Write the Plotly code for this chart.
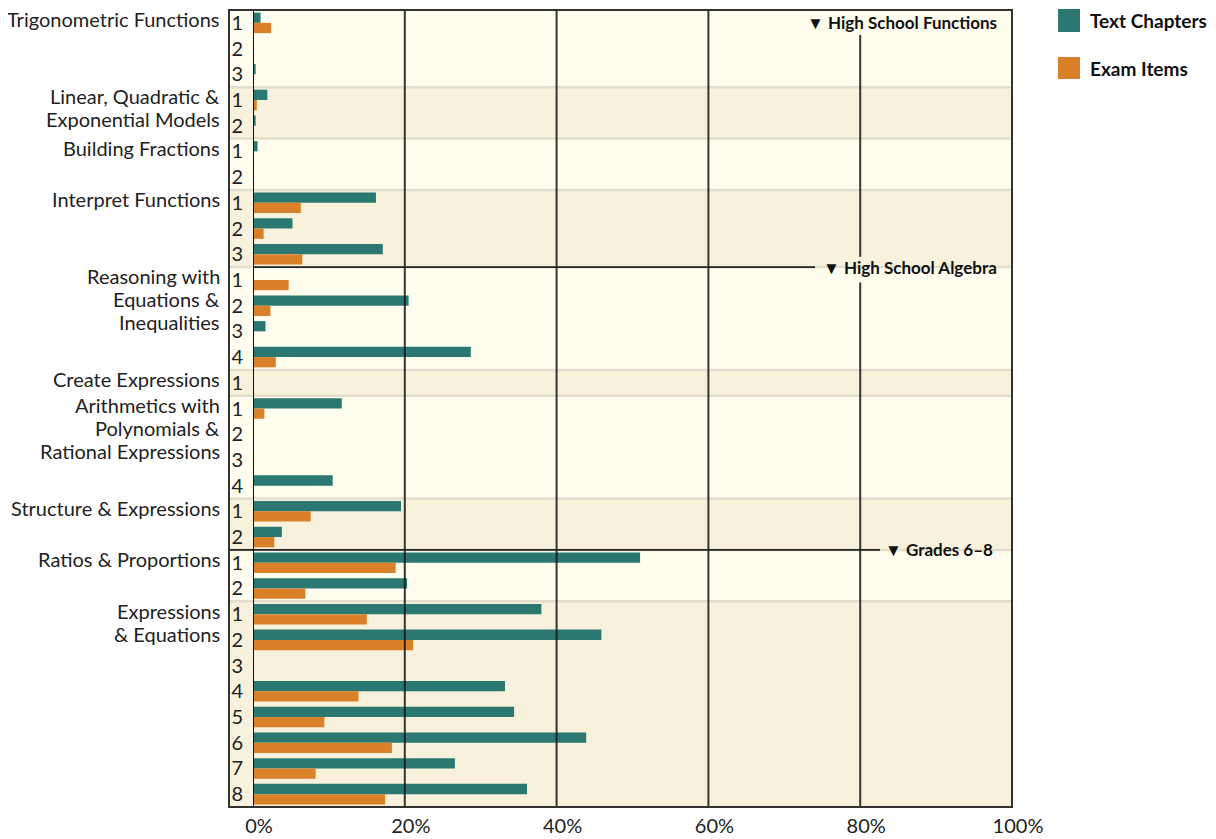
import plotly.graph_objects as go

# ---------------- data ----------------
group_names = [
    "Trigonometric Functions",
    "Linear, Quadratic &<br>Exponential Models",
    "Building Fractions",
    "Interpret Functions",
    "Reasoning with<br>Equations &<br>Inequalities",
    "Create Expressions",
    "Arithmetics with<br>Polynomials &<br>Rational Expressions",
    "Structure & Expressions",
    "Ratios & Proportions",
    "Expressions<br>& Equations",
]
group_sizes = [3, 2, 2, 3, 4, 1, 4, 2, 2, 8]
item_labels = ["1", "2", "3", "1", "2", "1", "2", "1", "2", "3",
               "1", "2", "3", "4", "1", "1", "2", "3", "4", "1", "2",
               "1", "2", "1", "2", "3", "4", "5", "6", "7", "8"]
text_chapters = [1.0, 0, 0.35, 1.9, 0.35, 0.6, 0, 16.2, 5.2, 17.1,
                 0, 20.5, 1.65, 28.7, 0, 11.7, 0, 0, 10.5, 19.5, 3.8,
                 51.0, 20.3, 38.0, 45.9, 0, 33.2, 34.4, 43.9, 26.6, 36.1]
exam_items = [2.4, 0, 0, 0.5, 0, 0, 0, 6.3, 1.4, 6.5,
              4.7, 2.3, 0, 3.0, 0, 1.5, 0, 0, 0, 7.6, 2.8,
              18.8, 6.9, 15.0, 21.1, 0, 13.9, 9.4, 18.3, 8.25, 17.4]
section_names = ["High School Functions", "High School Algebra", "Grades 6\u20138"]
section_start_group = [0, 4, 8]
x_ticks = [0, 20, 40, 60, 80, 100]
x_tick_labels = ["0%", "20%", "40%", "60%", "80%", "100%"]
series_names = ["Text Chapters", "Exam Items"]

# ---------------- style ----------------
TEAL = "#2b7872"
ORANGE = "#d98029"
LIGHT = "#fffdee"
BEIGE = "#f8f1dc"
SEP = "#e3dece"
INK = "#222222"
FONT = "Lato"

OFF = 8  # page body margin
W, H = 1216 - OFF, 839 - OFF
# target page pixels: plot area x 253..1012, y 10..807
ML = 253 - OFF
MT = 10 - OFF
MR = W - (1012 - OFF)
MB = H - (807 - OFF)
PW = W - ML - MR
PH = H - MT - MB


def px_x(p):  # page pixel -> paper x
    return (p - OFF - ML) / PW


def px_y(p):  # page pixel -> paper y
    return (H - MB - (p - OFF)) / PH


n_rows = len(item_labels)
rows = list(range(n_rows))

fig = go.Figure()
fig.add_trace(go.Bar(y=rows, x=text_chapters, orientation="h", name=series_names[0],
                     marker=dict(color=TEAL, line=dict(width=0)), hoverinfo="skip"))
fig.add_trace(go.Bar(y=rows, x=exam_items, orientation="h", name=series_names[1],
                     marker=dict(color=ORANGE, line=dict(width=0)), hoverinfo="skip"))

shapes = []
annotations = []
col_left = px_x(229)

# group starts
starts = []
s = 0
for g in group_sizes:
    starts.append(s)
    s += g

# bands
for gi, (st, sz) in enumerate(zip(starts, group_sizes)):
    shapes.append(dict(type="rect", xref="paper", yref="y", x0=col_left, x1=1,
                       y0=st - 0.5, y1=st + sz - 0.5, fillcolor=LIGHT if gi % 2 == 0 else BEIGE,
                       line=dict(width=0), layer="below"))
    if gi > 0:
        shapes.append(dict(type="line", xref="paper", yref="y", x0=col_left, x1=1,
                           y0=st - 0.5, y1=st - 0.5, line=dict(color=SEP, width=2.5), layer="below"))

# group labels (one annotation per line)
row_px = PH / n_rows
line_step = 23 / row_px
for name, st in zip(group_names, starts):
    for k, line in enumerate(name.split("<br>")):
        annotations.append(dict(text=line, xref="paper", yref="y", x=px_x(222), y=st - 0.14 + k * line_step,
                                xanchor="right", yanchor="middle", showarrow=False,
                                font=dict(family=FONT, size=20, color=INK)))

# vertical grid lines (drawn above bars)
gap_row = starts[section_start_group[1]] - 0.5
for xv in x_ticks[1:-1]:
    if xv == 80:
        segs = [(0.47, gap_row - 0.4), (gap_row + 0.6, n_rows - 0.5)]
    else:
        segs = [(-0.5, n_rows - 0.5)]
    for a, b in segs:
        shapes.append(dict(type="line", xref="x", yref="y", x0=xv, x1=xv, y0=a, y1=b,
                           line=dict(color="rgba(20,20,20,0.85)", width=2), layer="above"))

# section lines
sec_rows = [starts[g] - 0.5 for g in section_start_group]
shapes.append(dict(type="line", xref="paper", yref="y", x0=0, x1=px_x(815),
                   y0=sec_rows[1], y1=sec_rows[1], line=dict(color=INK, width=1.8), layer="above"))
shapes.append(dict(type="line", xref="paper", yref="y", x0=col_left, x1=px_x(880),
                   y0=sec_rows[2], y1=sec_rows[2], line=dict(color=INK, width=1.8), layer="above"))

# section labels
sec_y = [0, sec_rows[1], sec_rows[2]]
sec_x = [px_x(999), px_x(999), px_x(995)]
for nm, yv, xv in zip(section_names, sec_y, sec_x):
    annotations.append(dict(text="<b>\u25BC " + nm + "</b>", xref="paper", yref="y", x=xv, y=yv,
                            xanchor="right", yanchor="middle", showarrow=False,
                            font=dict(family=FONT, size=17, color="#111111")))

# zero line and frame
shapes.append(dict(type="line", xref="x", yref="paper", x0=0, x1=0, y0=0, y1=1,
                   line=dict(color="#111111", width=2), layer="above"))
shapes.append(dict(type="rect", xref="paper", yref="paper", x0=col_left, x1=1, y0=0, y1=1,
                   line=dict(color="#333333", width=2), fillcolor="rgba(0,0,0,0)", layer="above"))

# legend (manual)
leg_y = [(9, 32), (57, 79)]
for nm, col, (a, b) in zip(series_names, [TEAL, ORANGE], leg_y):
    shapes.append(dict(type="rect", xref="paper", yref="paper", x0=px_x(1058), x1=px_x(1080),
                       y0=px_y(b), y1=px_y(a), fillcolor=col, line=dict(width=0)))
    annotations.append(dict(text="<b>" + nm + "</b>", xref="paper", yref="paper", x=px_x(1088),
                            y=px_y((a + b) / 2), xanchor="left", yanchor="middle", showarrow=False,
                            font=dict(family=FONT, size=19, color="#111111")))

fig.update_layout(
    width=W, height=H,
    margin=dict(l=ML, r=MR, t=MT, b=MB, pad=0, autoexpand=False),
    paper_bgcolor="white", plot_bgcolor=LIGHT,
    barmode="group", bargap=0.2, bargroupgap=0.0,
    showlegend=False,
    shapes=shapes, annotations=annotations,
    font=dict(family=FONT, color=INK),
    xaxis=dict(range=[0, 100], tickvals=x_ticks, ticktext=x_tick_labels, showgrid=False,
               zeroline=False, showline=False, ticks="", ticklabelstandoff=5, ticklabelshift=6,
               automargin=False,
               tickfont=dict(family=FONT, size=20, color=INK), fixedrange=True),
    yaxis=dict(range=[n_rows - 0.5, -0.5], tickvals=rows, ticktext=item_labels, showgrid=False,
               zeroline=False, showline=False, ticks="", ticklabelstandoff=9, automargin=False,
               tickfont=dict(family=FONT, size=20, color=INK), fixedrange=True),
)

fig.write_html("out.html")
